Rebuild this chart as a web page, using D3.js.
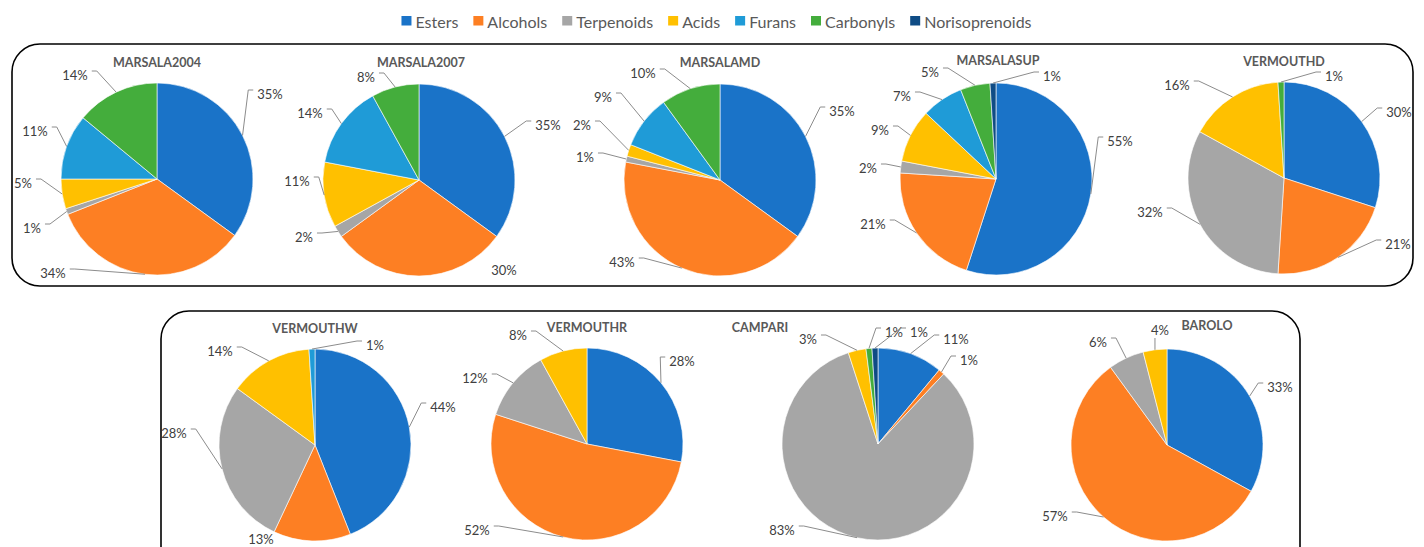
<!DOCTYPE html>
<html>
<head>
<meta charset="utf-8">
<script src="https://cdn.jsdelivr.net/npm/d3@7/dist/d3.min.js"></script>
<style>
  html, body { margin: 0; padding: 0; background: #fff; }
  svg { display: block; font-family: Lato, "Open Sans", sans-serif; }
</style>
</head>
<body>
<svg id="chart" width="1424" height="547"></svg>
<script>
// Aroma compound classes (legend order = slice order, clockwise from 12 o'clock)
const categories = ["Esters", "Alcohols", "Terpenoids", "Acids", "Furans", "Carbonyls", "Norisoprenoids"];
const colors = ["#1a73c8", "#fd7f23", "#a6a6a6", "#ffc000", "#1f9bd7", "#44ad3c", "#0f4c85"];

// Share (%) of each class per sample
const marsala2004 = [35, 34, 1, 5, 11, 14, 0];
const marsala2007 = [35, 30, 2, 11, 14, 8, 0];
const marsalaMD   = [35, 43, 1, 2, 9, 10, 0];
const marsalaSUP  = [55, 21, 2, 9, 7, 5, 1];
const vermouthD   = [30, 21, 32, 16, 0, 1, 0];
const vermouthW   = [44, 13, 28, 14, 1, 0, 0];
const vermouthR   = [28, 52, 12, 8, 0, 0, 0];
const campari     = [11, 1, 83, 3, 0, 1, 1];
const barolo      = [33, 57, 6, 4, 0, 0, 0];

const sampleNames = ["MARSALA2004", "MARSALA2007", "MARSALAMD", "MARSALASUP", "VERMOUTHD",
                     "VERMOUTHW", "VERMOUTHR", "CAMPARI", "BAROLO"];
const sampleValues = [marsala2004, marsala2007, marsalaMD, marsalaSUP, vermouthD,
                      vermouthW, vermouthR, campari, barolo];

// ---- layout -------------------------------------------------------------
const radius = 96;
const pieCenters = [[157, 179], [419, 180], [720, 180], [996, 179], [1284, 178],
                    [315, 445], [587, 444], [878, 444], [1167, 445]];
const titleSpots = [[157, 62], [421, 62], [720, 62], [998, 60], [1284, 61],
                    [315, 328], [587, 327], [760, 327], [1207, 325]];
// data-label offsets from the pie centre, per class; third entry false = no leader line
const labelSpots = [
  [[113, -85], [-104, 94], [-125, 49], [-134, 4], [-122, -48], [-82, -104], null],
  [[129, -55], [85, 90, false], [-115, 57], [-122, 1], [-109, -67], [-53, -103], null],
  [[122, -69], [-98, 82], [-135, -23], [-138, -55], [-117, -83], [-77, -107], null],
  [[124, -38], [-123, 45], [-128, -11], [-116, -49], [-94, -83], [-66, -107], [56, -103]],
  [[115, -66], [114, 66], [-134, 34], [-107, -93], null, [50, -102], null],
  [[128, -38], [-54, 94, false], [-141, -12], [-95, -94], [60, -100], null, null],
  [[95, -83], [-110, 86], [-112, -66], [-69, -109], null, null, null],
  [[78, -105], [91, -84], [-96, 86], [-70, -105], null, [16, -112], [41, -112]],
  [[113, -58], [-112, 71], [-69, -103], [-7, -115], null, null, null]
];

const svg = d3.select("#chart");
svg.append("rect").attr("width", 1424).attr("height", 547).attr("fill", "#fff");

// rounded frames around the two rows
svg.append("rect").attr("x", 12).attr("y", 44).attr("width", 1401).attr("height", 242)
  .attr("rx", 28).attr("fill", "none").attr("stroke", "#000").attr("stroke-width", 1.6);
svg.append("rect").attr("x", 161).attr("y", 311).attr("width", 1139).attr("height", 270)
  .attr("rx", 28).attr("fill", "none").attr("stroke", "#000").attr("stroke-width", 1.6);

// legend
const legend = svg.append("g");
let lx = 0;
categories.forEach((c, i) => {
  const g = legend.append("g").attr("transform", `translate(${lx},0)`);
  g.append("rect").attr("x", 0).attr("y", 16).attr("width", 10).attr("height", 9.5).attr("fill", colors[i]);
  const t = g.append("text").attr("x", 14).attr("y", 21).attr("dominant-baseline", "central")
    .attr("font-size", 16).attr("fill", "#595959").text(c);
  lx += 14 + t.node().getComputedTextLength() + 15;
});
const legendWidth = lx - 15;
legend.attr("transform", `translate(${716.5 - legendWidth / 2},0)`);

const pie = d3.pie().sort(null).value(d => d);
const arc = d3.arc().innerRadius(0).outerRadius(radius);
const color = d3.scaleOrdinal().domain(categories).range(colors);

sampleNames.forEach((name, k) => {
  const [cx, cy] = pieCenters[k];
  const g = svg.append("g");
  const arcs = pie(sampleValues[k]).map((d, i) => ({ ...d, cat: categories[i], idx: i }));

  g.append("g").attr("transform", `translate(${cx},${cy})`)
    .selectAll("path").data(arcs.filter(d => d.value > 0)).join("path")
    .attr("d", arc).attr("fill", d => color(d.cat))
    .attr("stroke", "#fff").attr("stroke-width", 0.6);

  g.append("text").attr("x", titleSpots[k][0]).attr("y", titleSpots[k][1])
    .attr("text-anchor", "middle").attr("dominant-baseline", "central")
    .attr("font-size", 12.5).attr("font-weight", 700).attr("fill", "#595959").text(name);

  arcs.filter(d => d.value > 0).forEach(d => {
    const spot = labelSpots[k][d.idx];
    if (!spot) return;
    const lxp = cx + spot[0], lyp = cy + spot[1];
    const t = g.append("text").attr("x", lxp).attr("y", lyp)
      .attr("text-anchor", "middle").attr("dominant-baseline", "central")
      .attr("font-size", 13).attr("fill", "#404040").text(d.value + "%");
    if (spot[2] === false) return;
    const w = t.node().getComputedTextLength();
    const a = (d.startAngle + d.endAngle) / 2;
    const ax = cx + radius * Math.sin(a), ay = cy - radius * Math.cos(a);
    let pts;
    if (Math.abs(lxp - ax) < w / 2 + 2) {
      // label sits straight above the slice
      pts = [[ax, ay], [ax, lyp + 8]];
    } else if (lxp > ax) {
      const ex = lxp - w / 2 - 4;
      pts = [[ax, ay], [ex - 5, lyp - 4], [ex, lyp - 4]];
    } else {
      const ex = lxp + w / 2 + 4;
      pts = [[ax, ay], [ex + 5, lyp - 4], [ex, lyp - 4]];
    }
    g.append("path").attr("d", d3.line()(pts)).attr("fill", "none")
      .attr("stroke", "#8c8c8c").attr("stroke-width", 1);
  });
});
</script>
</body>
</html>
